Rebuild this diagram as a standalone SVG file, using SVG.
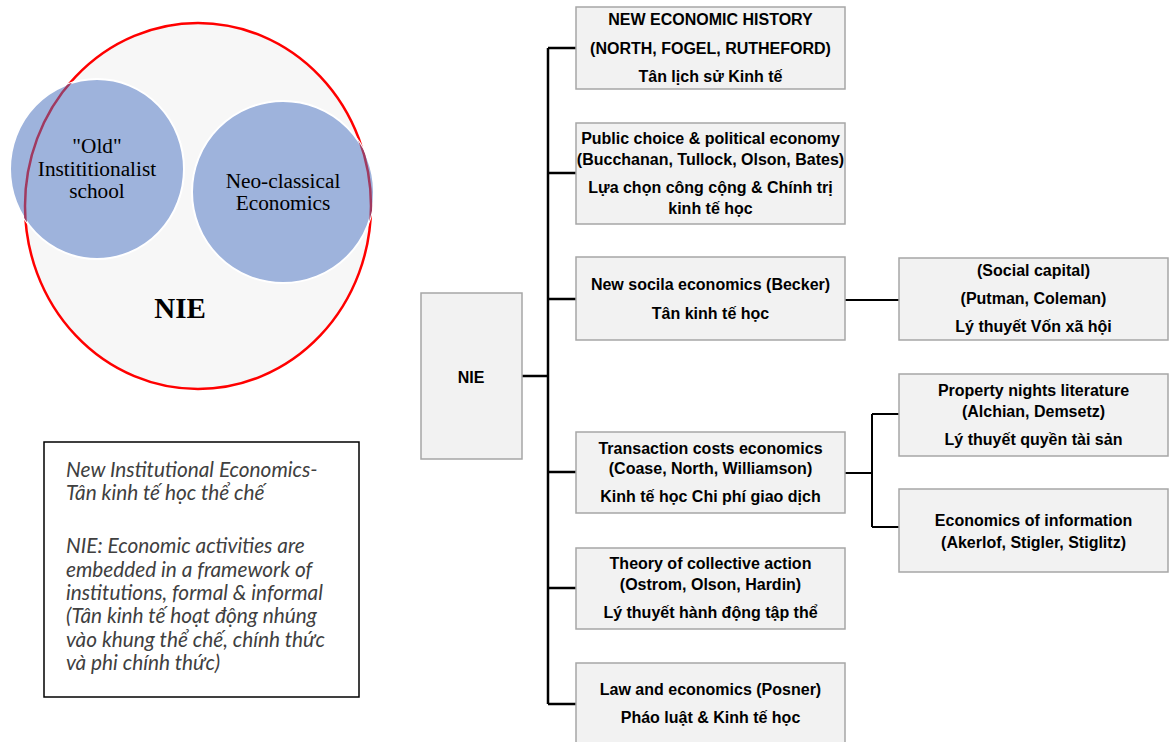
<svg xmlns="http://www.w3.org/2000/svg" width="1169" height="742" viewBox="0 0 1169 742">
  <style>
    .venn-text { font-family: "Liberation Serif", "Times New Roman", serif; font-size: 21.3px; fill: #000; text-anchor: middle; }
    .venn-title { font-family: "Liberation Serif", "Times New Roman", serif; font-size: 29px; font-weight: bold; fill: #000; text-anchor: middle; }
    .note { font-family: Lato, "Noto Sans", sans-serif; font-size: 20.8px; font-style: italic; fill: #404040; }
    .box { fill: #f2f2f2; stroke: #a6a6a6; stroke-width: 1.5; }
    .label { font-family: "Liberation Sans", Arial, sans-serif; font-size: 16px; font-weight: bold; fill: #000; text-anchor: middle; }
    .trunk { fill: none; stroke: #000; stroke-width: 2.5; }
    .sub { fill: none; stroke: #000; stroke-width: 2; }
  </style>
  <defs>
    <clipPath id="overlap">
      <ellipse cx="97" cy="169" rx="87" ry="90"/>
      <ellipse cx="283" cy="192" rx="91" ry="91"/>
    </clipPath>
  </defs>
  <rect width="1169" height="742" fill="#ffffff"/>

  <!-- Venn diagram -->
  <g id="venn">
    <ellipse cx="198" cy="206" rx="173" ry="183" fill="#f7f7f7" stroke="#ff0000" stroke-width="2.5"/>
    <ellipse cx="97" cy="169" rx="87" ry="90" fill="#9eb3dc" stroke="#ffffff" stroke-width="2"/>
    <ellipse cx="283" cy="192" rx="91" ry="91" fill="#9eb3dc" stroke="#ffffff" stroke-width="2"/>
    <!-- outline of the NIE circle seen through the two schools -->
    <ellipse cx="198" cy="206" rx="173" ry="183" fill="none" stroke="#a03a60" stroke-width="2.5" clip-path="url(#overlap)"/>
    <text class="venn-text" x="97" y="153">"Old"</text>
    <text class="venn-text" x="97" y="176">Instititionalist</text>
    <text class="venn-text" x="97" y="198">school</text>
    <text class="venn-text" x="283" y="188">Neo-classical</text>
    <text class="venn-text" x="283" y="210">Economics</text>
    <text class="venn-title" x="180" y="318">NIE</text>
  </g>

  <!-- Definition note -->
  <g id="note">
    <rect x="44" y="442" width="315" height="255" fill="#ffffff" stroke="#000" stroke-width="1.5"/>
    <text class="note" x="66" y="477">New Institutional Economics-</text>
    <text class="note" x="66" y="500">Tân kinh tế học thể chế</text>
    <text class="note" x="66" y="553">NIE: Economic activities are</text>
    <text class="note" x="66" y="577">embedded in a framework of</text>
    <text class="note" x="66" y="600">institutions, formal &amp; informal</text>
    <text class="note" x="66" y="623">(Tân kinh tế hoạt động nhúng</text>
    <text class="note" x="66" y="647">vào khung thể chế, chính thức</text>
    <text class="note" x="66" y="670">và phi chính thức)</text>
  </g>

  <!-- Connectors -->
  <g id="connectors">
    <path class="trunk" d="M522 376 H548 M548 48 V704 M548 48 H576 M548 173 H576 M548 299 H576 M548 472 H576 M548 588 H576 M548 704 H576"/>
    <path class="sub" d="M845 300 H899"/>
    <path class="sub" d="M845 473 H872 M872 414 V527 M872 414 H899 M872 527 H899"/>
  </g>

  <g id="nie">
    <rect class="box" x="421" y="293" width="101" height="166"/>
    <text class="label" x="471" y="383">NIE</text>
  </g>

  <g id="new-economic-history">
    <rect class="box" x="576" y="7" width="269" height="82"/>
    <text class="label" x="710.5" y="25">NEW ECONOMIC HISTORY</text>
    <text class="label" x="710.5" y="54">(NORTH, FOGEL, RUTHEFORD)</text>
    <text class="label" x="710.5" y="82">Tân lịch sử Kinh tế</text>
  </g>

  <g id="public-choice">
    <rect class="box" x="576" y="123" width="269" height="101"/>
    <text class="label" x="710.5" y="144">Public choice &amp; political economy</text>
    <text class="label" x="710.5" y="165">(Bucchanan, Tullock, Olson, Bates)</text>
    <text class="label" x="710.5" y="193">Lựa chọn công cộng &amp; Chính trị</text>
    <text class="label" x="710.5" y="214">kinh tế học</text>
  </g>

  <g id="new-social-economics">
    <rect class="box" x="576" y="257" width="269" height="83"/>
    <text class="label" x="710.5" y="290">New socila economics (Becker)</text>
    <text class="label" x="710.5" y="319">Tân kinh tế học</text>
  </g>

  <g id="transaction-costs">
    <rect class="box" x="576" y="432" width="269" height="81"/>
    <text class="label" x="710.5" y="454">Transaction costs economics</text>
    <text class="label" x="710.5" y="474">(Coase, North, Williamson)</text>
    <text class="label" x="710.5" y="502">Kinh tế học Chi phí giao dịch</text>
  </g>

  <g id="collective-action">
    <rect class="box" x="576" y="548" width="269" height="81"/>
    <text class="label" x="710.5" y="569">Theory of collective action</text>
    <text class="label" x="710.5" y="590">(Ostrom, Olson, Hardin)</text>
    <text class="label" x="710.5" y="618">Lý thuyết hành động tập thể</text>
  </g>

  <g id="law-economics">
    <rect class="box" x="576" y="663" width="269" height="90"/>
    <text class="label" x="710.5" y="695">Law and economics (Posner)</text>
    <text class="label" x="710.5" y="723">Pháo luật &amp; Kinh tế học</text>
  </g>

  <g id="social-capital">
    <rect class="box" x="899" y="258" width="269" height="82"/>
    <text class="label" x="1033.5" y="276">(Social capital)</text>
    <text class="label" x="1033.5" y="304">(Putman, Coleman)</text>
    <text class="label" x="1033.5" y="332">Lý thuyết Vốn xã hội</text>
  </g>

  <g id="property-rights">
    <rect class="box" x="899" y="374" width="269" height="82"/>
    <text class="label" x="1033.5" y="396">Property nights literature</text>
    <text class="label" x="1033.5" y="417">(Alchian, Demsetz)</text>
    <text class="label" x="1033.5" y="445">Lý thuyết quyền tài sản</text>
  </g>

  <g id="economics-of-information">
    <rect class="box" x="899" y="489" width="269" height="83"/>
    <text class="label" x="1033.5" y="526">Economics of information</text>
    <text class="label" x="1033.5" y="548">(Akerlof, Stigler, Stiglitz)</text>
  </g>
</svg>
